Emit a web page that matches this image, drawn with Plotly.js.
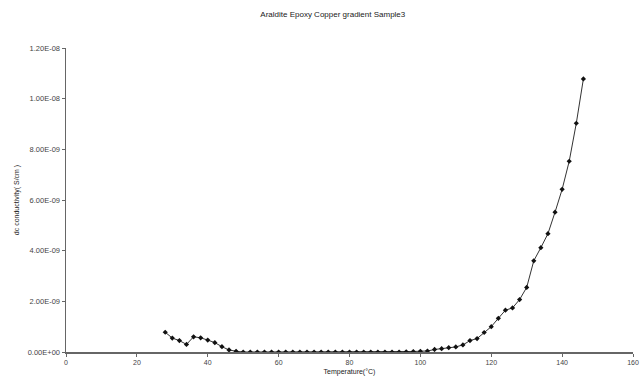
<!DOCTYPE html>
<html>
<head>
<meta charset="utf-8">
<script src="https://cdn.plot.ly/plotly-3.0.1.min.js"></script>
<style>html,body{margin:0;padding:0;background:#fff;}#chart{width:640px;height:383px;}</style>
</head>
<body>
<div id="chart"></div>
<script>
const temperature = [28,30,32,34,36,38,40,42,44,46,48,
  50,52,54,56,58,60,62,64,66,68,70,72,74,76,78,80,82,84,86,88,90,92,94,
  96,98,100,102,104,106,108,110,112,114,116,118,120,122,124,126,128,130,132,134,136,138,140,142,144,146];
const conductivityE9 = [0.78,0.55,0.45,0.30,0.60,0.56,0.47,0.37,0.21,0.08,0.03,
  0,0,0,0,0,0,0,0,0,0,0,0,0,0,0,0,0,0,0,0,0,0,0,
  0.01,0.02,0.03,0.04,0.10,0.13,0.17,0.20,0.28,0.45,0.53,0.77,1.00,1.33,1.65,1.74,2.07,2.55,3.60,4.12,4.67,5.52,6.42,7.53,9.03,10.78];
const yTickVals = [0,2e-9,4e-9,6e-9,8e-9,1e-8,1.2e-8];
const yTickText = ["0.00E+00","2.00E-09","4.00E-09","6.00E-09","8.00E-09","1.00E-08","1.20E-08"];
const xTickVals = [0,20,40,60,80,100,120,140,160];

const conductivity = conductivityE9.map(v => v * 1e-9);

const trace = {
  x: temperature,
  y: conductivity,
  mode: 'lines+markers',
  line: {color: '#333', width: 1},
  marker: {symbol: 'diamond', size: 4, color: '#111'},
  hoverinfo: 'none'
};

const layout = {
  width: 640, height: 383,
  margin: {l: 66, r: 7, t: 48, b: 31},
  paper_bgcolor: '#fff', plot_bgcolor: '#fff',
  showlegend: false,
  font: {family: 'Liberation Sans, Arial, sans-serif', color: '#333'},
  title: {text: 'Araldite Epoxy Copper gradient Sample3', font: {size: 8, color: '#222'}, x: 0.52, xanchor: 'center', y: 0.97, yanchor: 'top'},
  xaxis: {
    range: [0, 160], tickvals: xTickVals, ticktext: xTickVals.map(String),
    showgrid: false, zeroline: false, showline: true, linecolor: '#666', linewidth: 1.5,
    ticks: 'outside', ticklen: 3, tickcolor: '#666', tickfont: {size: 7, color: '#444'},
    ticklabeloverflow: 'allow',
    title: {text: 'Temperature(°C)', font: {size: 7, color: '#222'}, standoff: 4}
  },
  yaxis: {
    range: [0, 1.2e-8], tickvals: yTickVals, ticktext: yTickText,
    showgrid: false, zeroline: false, showline: true, linecolor: '#666', linewidth: 1.5,
    ticks: 'outside', ticklen: 3, tickcolor: '#666', tickfont: {size: 7.5, color: '#444'},
    title: {text: 'dc conductivity( S/cm )', font: {size: 7, color: '#222'}, standoff: 7}
  }
};

Plotly.newPlot('chart', [trace], layout, {displayModeBar: false, staticPlot: true});
</script>
</body>
</html>
